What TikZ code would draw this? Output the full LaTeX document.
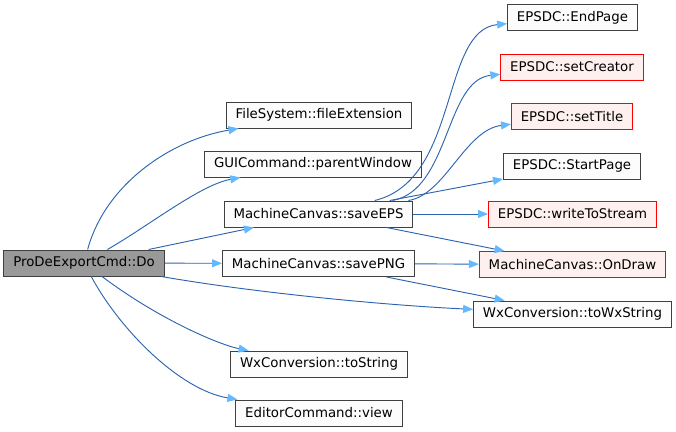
\documentclass[tikz,border=0pt]{standalone}
\usepackage{fontspec}
\setmainfont{DejaVu Sans}
\usepackage{tikz}
\usetikzlibrary{arrows.meta}
\definecolor{edgeblue}{RGB}{45, 100, 175}
\definecolor{tipblue}{RGB}{99, 184, 255}
\definecolor{boxgray}{RGB}{64, 64, 64}
\definecolor{rootfill}{RGB}{153, 153, 153}
\definecolor{redfill}{RGB}{255, 240, 240}

\begin{document}
\begin{tikzpicture}[
    x=0.75pt, y=-0.75pt,
    fn/.style={draw=boxgray, fill=white!98!gray, line width=0.75pt, minimum height=19.5pt, inner xsep=7pt, inner ysep=0pt, font=\fontsize{10}{12}\selectfont},
    root/.style={fn, fill=rootfill},
    undoc/.style={fn, draw=red, fill=redfill},
    call/.style={draw=edgeblue, line width=0.7pt, -{Triangle[length=7.5pt, width=6pt, color=tipblue]}}
]
\useasboundingbox (0,0) rectangle (676,432);

% Caller
\node[root] (do) at (84,263) {ProDeExportCmd::Do};

% Direct callees
\node[fn] (fileext) at (319,115) {FileSystem::fileExtension};
\node[fn] (parentwin) at (313,164) {GUICommand::parentWindow};
\node[fn] (saveeps) at (318.5,214) {MachineCanvas::saveEPS};
\node[fn] (savepng) at (318.5,263.5) {MachineCanvas::savePNG};
\node[fn] (tostring) at (319,364) {WxConversion::toString};
\node[fn] (view) at (319,413) {EditorCommand::view};

% Second level
\node[fn] (endpage) at (572.5,17.5) {EPSDC::EndPage};
\node[undoc] (setcreator) at (572,67) {EPSDC::setCreator};
\node[undoc] (settitle) at (572,116.5) {EPSDC::setTitle};
\node[fn] (startpage) at (572,166) {EPSDC::StartPage};
\node[undoc] (writestream) at (572.5,214) {EPSDC::writeToStream};
\node[undoc] (ondraw) at (572.5,264.5) {MachineCanvas::OnDraw};
\node[fn] (towx) at (572.5,314) {WxConversion::toWxString};

% Calls from ProDeExportCmd::Do
\draw[call] (do) .. controls (105,185) and (170,140) .. (fileext);
\draw[call] (do) .. controls (150,225) and (200,185) .. (parentwin);
\draw[call] (do) -- (saveeps);
\draw[call] (do) -- (savepng);
\draw[call] (do) .. controls (250,292) and (380,305) .. (towx);
\draw[call] (do) .. controls (160,320) and (220,345) .. (tostring);
\draw[call] (do) .. controls (120,330) and (180,390) .. (view);

% Calls from saveEPS
\draw[call] (saveeps) .. controls (460,180) and (440,30) .. (endpage);
\draw[call] (saveeps) .. controls (450,190) and (445,80) .. (setcreator);
\draw[call] (saveeps) .. controls (445,195) and (465,130) .. (settitle);
\draw[call] (saveeps) -- (startpage);
\draw[call] (saveeps) -- (writestream);
\draw[call] (saveeps) -- (ondraw);

% Calls from savePNG
\draw[call] (savepng) -- (ondraw);
\draw[call] (savepng) -- (towx);

\end{tikzpicture}
\end{document}
